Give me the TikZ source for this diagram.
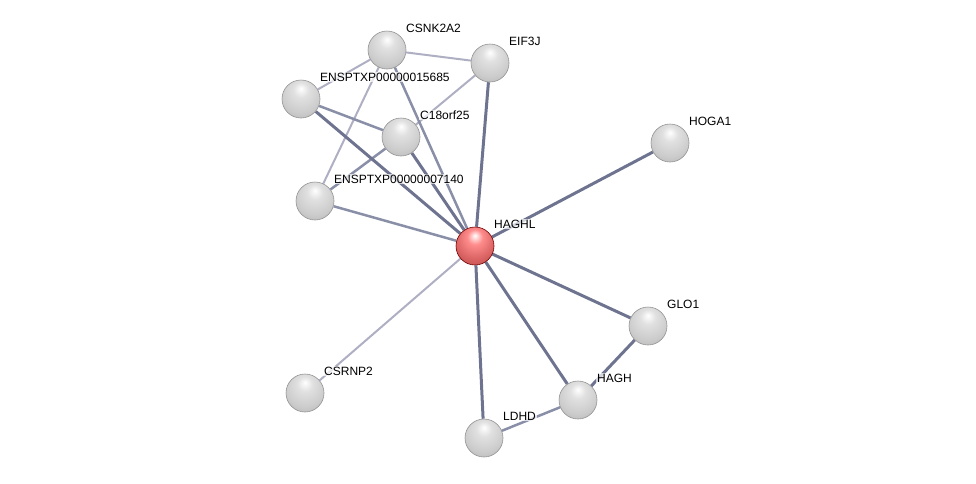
\documentclass[tikz,border=0pt]{standalone}
\usepackage{fontspec}
\setmainfont{Liberation Sans}
\usetikzlibrary{calc,backgrounds}
\definecolor{edgedark}{HTML}{6E7490}
\definecolor{edgemid}{HTML}{8A8FA8}
\definecolor{edgelight}{HTML}{AFAFC4}
\pgfdeclareradialshading{greyball}{\pgfpoint{0bp}{14bp}}{color(0bp)=(white); color(10bp)=(white!88!black);
  color(26bp)=(white!80!black); color(40bp)=(white!70!black); color(50bp)=(white!62!black); color(58bp)=(white!86!black); color(64bp)=(white!60!black)}
\pgfdeclareradialshading{redball}{\pgfpoint{0bp}{14bp}}{color(0bp)=(white); color(10bp)=(red!45!white);
  color(26bp)=(red!55!white!85!black); color(40bp)=(red!60!white!72!black); color(50bp)=(red!60!white!62!black); color(58bp)=(red!50!white!85!black); color(64bp)=(red!70!black)}
\tikzset{
  prot/.style={circle,shading=greyball,draw=white!58!black,line width=.6pt,minimum size=38pt,inner sep=0pt},
  protq/.style={prot,shading=redball,draw=red!45!black},
  lbl/.style={anchor=west,font=\fontsize{12}{14}\selectfont,text=black,fill=white,fill opacity=.7,text opacity=1,inner sep=1pt},
  ed/.style={draw=edgedark,line width=3pt},
  em/.style={draw=edgemid,line width=2.5pt},
  el/.style={draw=edgelight,line width=2pt},
}
\begin{document}
\begin{tikzpicture}[x=1pt,y=-1pt]
  \useasboundingbox (0,0) rectangle (976,483);
  % proteins
  \foreach \n/\x/\y/\t in {csnk/387/50/CSNK2A2,eif/490/63/EIF3J,e15/301/99/ENSPTXP00000015685,
      c18/401/137/C18orf25,e07/315/201/ENSPTXP00000007140,hoga/670/143/HOGA1,glo/648/326/GLO1,
      hagh/578/400/HAGH,ldhd/484/438/LDHD,csrnp/305/393/CSRNP2} {
    \node[prot] (\n) at (\x,\y) {};
    \node[lbl] (l\n) at ($(\n)+(18,-22)$) {\t};
  }
  \node[protq] (haghl) at (475,246) {};
  \node[lbl] (lhaghl) at ($(haghl)+(18,-22)$) {HAGHL};
  % links
  \begin{scope}[on background layer]
    \foreach \a/\b in {csnk/eif,csnk/e15,csnk/e07,eif/c18,csrnp/haghl} \draw[el] (\a) -- (\b);
    \foreach \a/\b in {csnk/haghl,e15/c18,c18/e07,e07/haghl,hagh/ldhd} \draw[em] (\a) -- (\b);
    \foreach \a/\b in {eif/haghl,e15/haghl,c18/haghl,hoga/haghl,glo/haghl,glo/hagh,hagh/haghl,ldhd/haghl} \draw[ed] (\a) -- (\b);
  \end{scope}
\end{tikzpicture}
\end{document}
